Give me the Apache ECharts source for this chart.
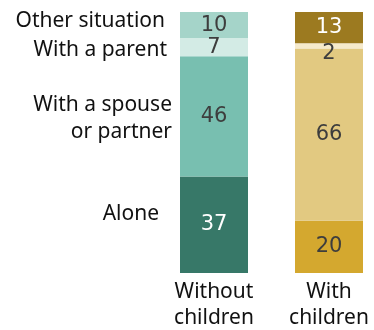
<!DOCTYPE html>
<html>
<head>
<meta charset="utf-8">
<script src="https://cdn.jsdelivr.net/npm/echarts@6/dist/echarts.min.js"></script>
<style>
  html, body { margin: 0; padding: 0; background: #fff; }
  #chart { width: 374px; height: 330px; }
</style>
</head>
<body>
<div id="chart"></div>
<script>
// Living arrangements, share (%) by group
const groups = ['Without\nchildren', 'With\nchildren'];
const situations = ['Alone', 'With a spouse\nor partner', 'With a parent', 'Other situation'];
const alone = [37, 20];
const spouse = [46, 66];
const parent = [7, 2];
const other = [10, 13];

const valueSets = [alone, spouse, parent, other];
const colors = [
  ['#377868', '#d4a82f'],
  ['#78bfb0', '#e2c981'],
  ['#d3ebe5', '#f6eacb'],
  ['#a5d4c9', '#9c7a20']
];
const labelColors = [
  ['#ffffff', '#3d3d3d'],
  ['#3d3d3d', '#3d3d3d'],
  ['#3d3d3d', '#3d3d3d'],
  ['#3d3d3d', '#ffffff']
];
// nudges [x, y] for the side captions
const captionOffsets = [[-9, -11], [4, 2], [-1, 3], [-3, -4]];

const numFont = 'DejaVu Sans';
const textFont = 'Noto Sans';

const series = [];
valueSets.forEach(function (vals, i) {
  series.push({
    name: situations[i],
    type: 'bar',
    stack: 'share',
    barWidth: 68,
    clip: true,
    data: vals.map(function (v, j) {
      const isThin = v < 4;
      return {
        value: v,
        itemStyle: { color: colors[i][j] },
        label: {
          show: true,
          position: isThin ? 'bottom' : 'inside',
          distance: 0,
          offset: isThin ? [0, -5] : [0, 0],
          color: labelColors[i][j],
          fontFamily: numFont,
          fontSize: 21
        }
      };
    })
  });
});

// transparent overlay on the first bar that carries the side captions
valueSets.forEach(function (vals, i) {
  series.push({
    name: situations[i] + ' caption',
    type: 'bar',
    stack: 'captions',
    barWidth: 68,
    barGap: '-100%',
    silent: true,
    itemStyle: { color: 'rgba(0,0,0,0)' },
    label: {
      show: true,
      position: 'left',
      distance: 12,
      offset: captionOffsets[i],
      formatter: situations[i],
      color: '#111111',
      fontFamily: textFont,
      fontSize: 21,
      lineHeight: 27,
      align: 'right'
    },
    data: [vals[0], '-']
  });
});

const chart = echarts.init(document.getElementById('chart'), null, { renderer: 'canvas' });
chart.setOption({
  animation: false,
  grid: {
    left: 156.5, top: 12, width: 230, height: 261,
    containLabel: false,
    outerBoundsMode: 'none'
  },
  xAxis: {
    type: 'category',
    data: groups,
    axisLine: { show: false },
    axisTick: { show: false },
    axisLabel: {
      margin: 6,
      color: '#111111',
      fontFamily: textFont,
      fontSize: 21,
      lineHeight: 26
    }
  },
  yAxis: {
    type: 'value',
    min: 0,
    max: 100,
    show: false,
    splitLine: { show: false }
  },
  series: series
});
</script>
</body>
</html>
